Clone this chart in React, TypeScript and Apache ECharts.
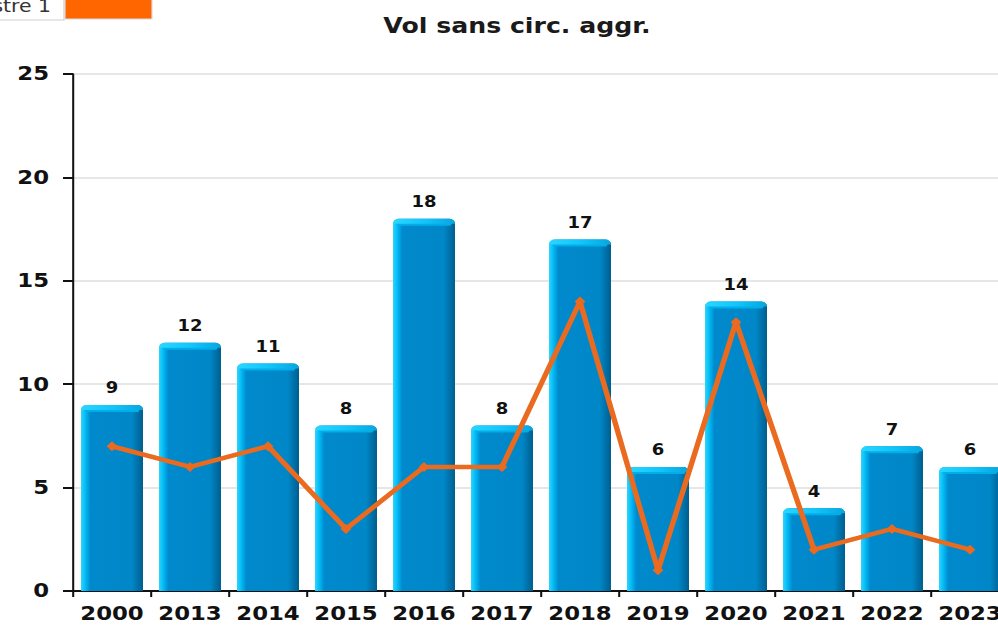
import React, { useEffect, useRef } from "react";
import * as echarts from "echarts";

const categories = ["2000", "2013", "2014", "2015", "2016", "2017", "2018", "2019", "2020", "2021", "2022", "2023"];
const barValues = [9, 12, 11, 8, 18, 8, 17, 6, 14, 4, 7, 6];
const lineValues = [7, 6, 7, 3, 6, 6, 14, 1, 13, 2, 3, 2];
const yTicks = { min: 0, max: 25, interval: 5 };
const chartTitle = "Vol sans circ. aggr.";
const legendText = "Trimestre 1";

const FONT = "DejaVu Sans";
const SX = 1.2; // horizontal stretch of the original rendering
const BAR_W = 62 / SX;

export default function App() {
  const ref = useRef<HTMLDivElement>(null);
  useEffect(() => {
    if (!ref.current) return;
    const chart = echarts.init(ref.current, null, { renderer: "svg" });
    chart.setOption({
      animation: false,
      backgroundColor: "#ffffff",
      title: {
        text: chartTitle,
        left: 511 / SX,
        top: 10,
        textAlign: "center",
        textStyle: { fontFamily: FONT, fontWeight: "bold", fontSize: 21, color: "#1a1a1a" },
      },
      graphic: [
        {
          type: "rect",
          shape: { x: -100, y: -10, width: 100 + 64 / SX, height: 30 },
          style: { fill: "#ffffff", stroke: "#cfcfcf", lineWidth: 1 },
        },
        {
          type: "text",
          style: {
            text: legendText,
            x: 51 / SX,
            y: 15,
            align: "right",
            verticalAlign: "bottom",
            fontFamily: FONT,
            fontSize: 17,
            fill: "#333333",
          },
        },
        {
          type: "rect",
          shape: { x: 65 / SX, y: -10, width: 87 / SX, height: 29 },
          style: { fill: "#ff6600", stroke: "#d9d9d9", lineWidth: 1 },
        },
      ],
      grid: { left: 73 / SX, top: 74, width: 936 / SX, height: 517, containLabel: false },
      xAxis: {
        type: "category",
        data: categories,
        boundaryGap: true,
        axisLine: { lineStyle: { color: "#111111", width: 2 } },
        axisTick: { show: true, length: 6, alignWithLabel: false, lineStyle: { color: "#111111", width: 1.7 } },
        axisLabel: { fontFamily: FONT, fontWeight: "bold", fontSize: 19, color: "#111111", margin: 13, interval: 0 },
      },
      yAxis: {
        type: "value",
        min: yTicks.min,
        max: yTicks.max,
        interval: yTicks.interval,
        axisLine: { show: true, lineStyle: { color: "#111111", width: 1.7 } },
        axisTick: { show: true, length: 10 / SX, lineStyle: { color: "#111111", width: 2 } },
        axisLabel: { fontFamily: FONT, fontWeight: "bold", fontSize: 19, color: "#111111", margin: 20 },
        splitLine: { show: true, lineStyle: { color: "#e6e6e6", width: 2 } },
      },
      series: [
        {
          type: "bar",
          data: barValues,
          barWidth: BAR_W,
          itemStyle: {
            borderRadius: [5, 5, 0, 0],
            color: new echarts.graphic.LinearGradient(0, 0, 1, 0, [
              { offset: 0, color: "#2ad6ff" },
              { offset: 0.08, color: "#00b6f2" },
              { offset: 0.15, color: "#0089cc" },
              { offset: 0.82, color: "#0087c8" },
              { offset: 1, color: "#005e8e" },
            ]),
          },
          label: {
            show: true,
            position: "top",
            distance: 9,
            fontFamily: FONT,
            fontWeight: "bold",
            fontSize: 15,
            color: "#111111",
          },
          z: 2,
        },
        {
          type: "custom",
          data: barValues,
          silent: true,
          z: 2.5,
          renderItem: (params: any, api: any) => {
            const top = api.coord([api.value(0), api.value(1)]);
            const w = BAR_W;
            const x0 = top[0] - w / 2;
            const y0 = top[1];
            const capH = 7;
            const inset = 4;
            return {
              type: "group",
              children: [
                {
                  type: "polygon",
                  shape: {
                    points: [
                      [x0 + 1, y0 + 2],
                      [x0 + w - 1, y0 + 2],
                      [x0 + w - inset, y0 + capH],
                      [x0 + inset, y0 + capH],
                    ],
                  },
                  style: { fill: "#00aeea" },
                },
                {
                  type: "rect",
                  shape: { x: x0, y: y0, width: w, height: capH - 2, r: [5, 5, 0, 0] },
                  style: {
                    fill: new echarts.graphic.LinearGradient(0, 0, 1, 0, [
                      { offset: 0, color: "#2ad6ff" },
                      { offset: 0.5, color: "#12c6fb" },
                      { offset: 1, color: "#06a6de" },
                    ]),
                  },
                },
              ],
            };
          },
        },
        {
          type: "line",
          data: lineValues,
          symbol: "diamond",
          symbolSize: [9, 10],
          lineStyle: { color: "#ea6a1f", width: 4.5 },
          itemStyle: { color: "#ea6a1f" },
          z: 3,
        },
      ],
    });
    return () => chart.dispose();
  }, []);
  return (
    <div style={{ position: "absolute", left: 0, top: 0, width: 998, height: 626, overflow: "hidden", background: "#fff" }}>
      <div
        ref={ref}
        style={{ width: 1012 / SX, height: 626, transform: `scaleX(${SX})`, transformOrigin: "0 0" }}
      />
    </div>
  );
}
